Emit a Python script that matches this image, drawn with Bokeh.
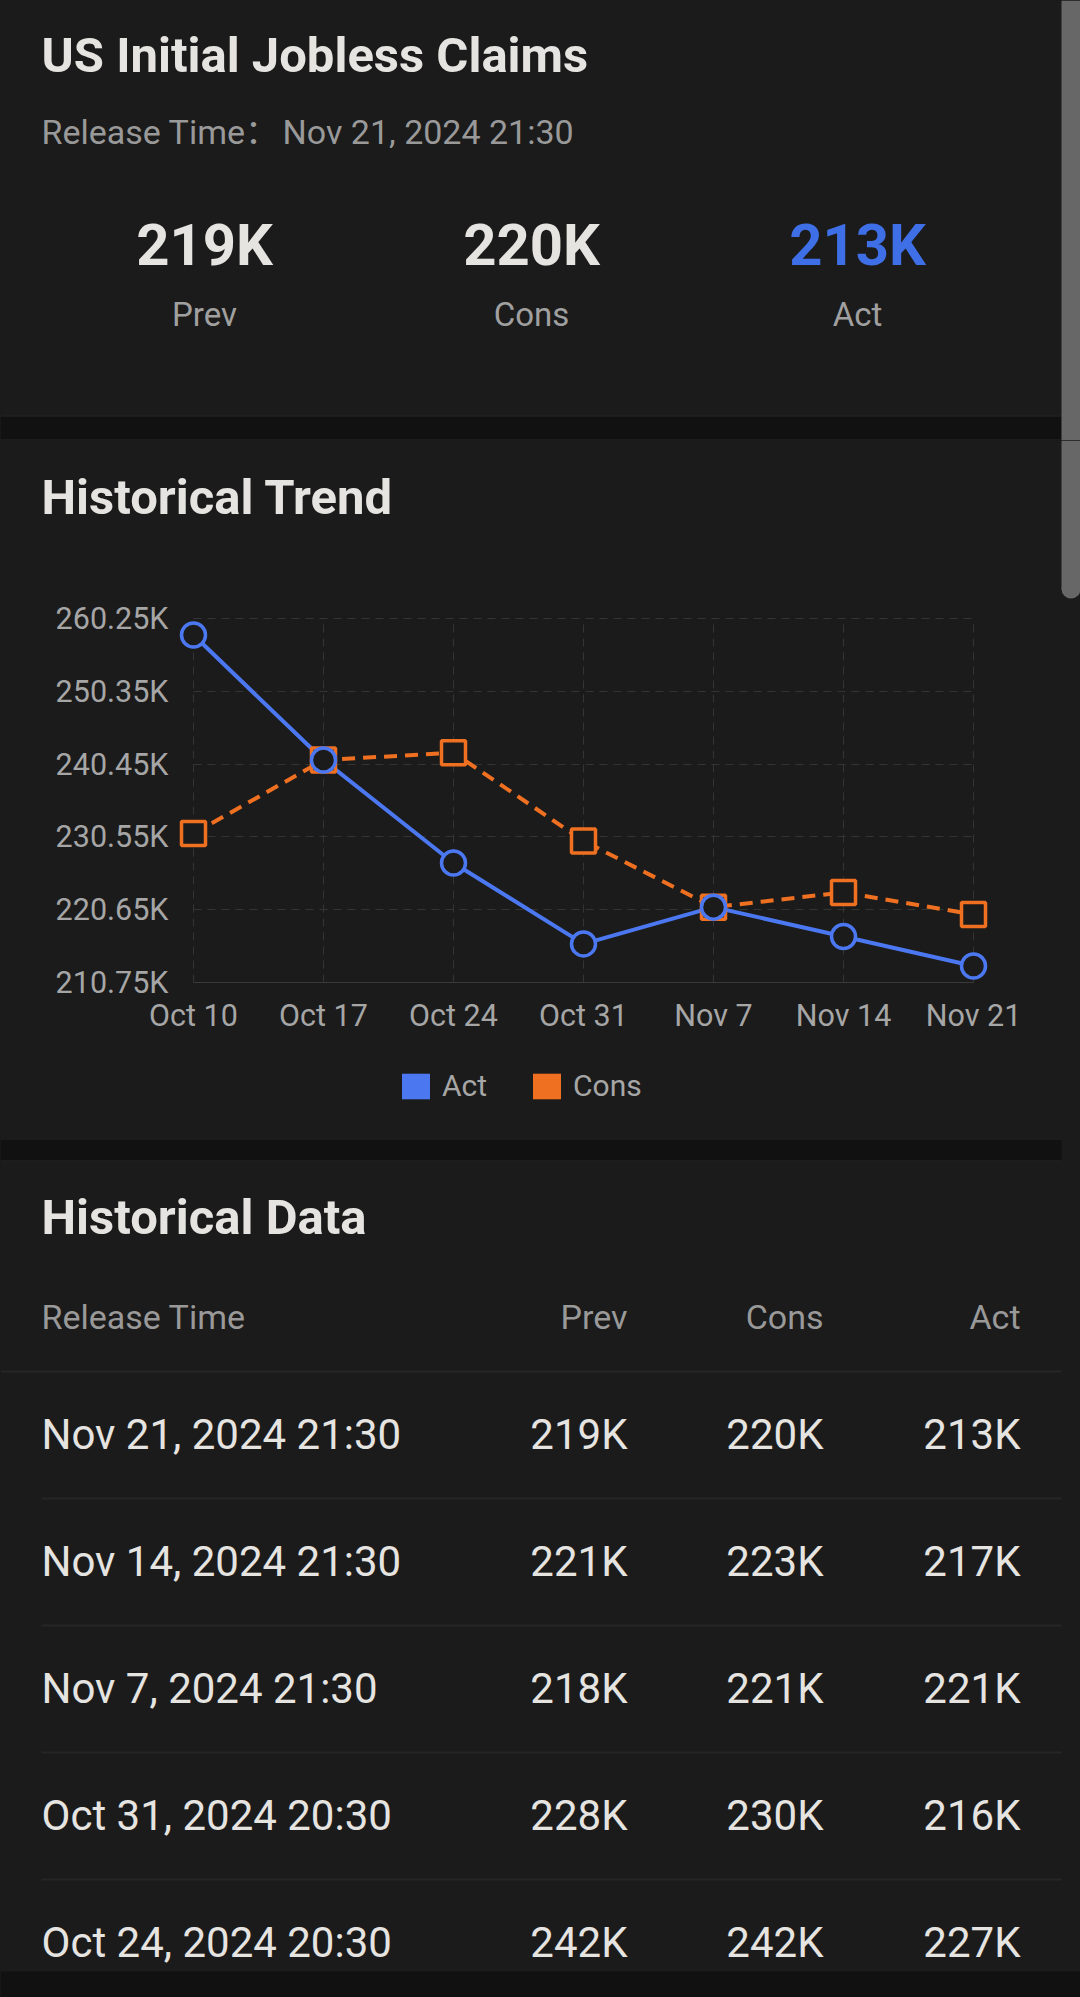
from bokeh.plotting import figure
from bokeh.models import Range1d, FixedTicker, Legend, LegendItem
from bokeh.layouts import column
from bokeh.core.properties import value
from bokeh.embed import file_html
from bokeh.resources import INLINE

# ---------------- data ----------------
indicator = "US Initial Jobless Claims"
release_label = "Release Time："
release_time = "Nov 21, 2024 21:30"
summary_labels = ["Prev", "Cons", "Act"]
summary_values = ["219K", "220K", "213K"]

trend_dates = ["Oct 10", "Oct 17", "Oct 24", "Oct 31", "Nov 7", "Nov 14", "Nov 21"]
act_values = [258000, 241000, 227000, 216000, 221000, 217000, 213000]
cons_values = [231000, 241000, 242000, 230000, 221000, 223000, 220000]
y_ticks = [210750, 220650, 230550, 240450, 250350, 260250]
y_tick_labels = ["210.75K", "220.65K", "230.55K", "240.45K", "250.35K", "260.25K"]

table_headers = ["Release Time", "Prev", "Cons", "Act"]
table_times = ["Nov 21, 2024 21:30", "Nov 14, 2024 21:30", "Nov 7, 2024 21:30",
               "Oct 31, 2024 20:30", "Oct 24, 2024 20:30"]
table_prev = ["219K", "221K", "218K", "228K", "242K"]
table_cons = ["220K", "223K", "221K", "230K", "242K"]
table_act = ["213K", "217K", "221K", "216K", "227K"]

# ---------------- styles ----------------
W = 1080
BG = "#1b1b1b"
BAND = "#111111"
BAND_EDGE = "#292929"
TXT = "#e6e4e1"
SUB = "#999999"
AXIS_TXT = "#a6a6a6"
BLUE = "#4b78f0"
ORANGE = "#ee7020"
ACT_BLUE = "#3f6fe6"
GRID = "#343434"
SCROLL = "#676767"
FONT = value("Roboto")
BASE_SHIFT = 0.39   # text is anchored so that its baseline lands on the target line


def no_align(f):
    try:
        f.frame_align = False
    except Exception:
        pass


def canvas(h):
    f = figure(width=W, height=h, x_range=Range1d(0, W), y_range=Range1d(h, 0),
               output_backend="svg", toolbar_location=None,
               x_axis_location=None, y_axis_location=None, min_border=0,
               background_fill_color=BG, border_fill_color=BG, outline_line_color=None,
               styles={"background-color": BG})
    f.grid.visible = False
    no_align(f)
    return f


def txt(f, x, y, t, size, color, bold=False, align="left", font=FONT):
    yy = [v - BASE_SHIFT * size for v in y]
    f.text(x=x, y=yy, text=t, text_font=font, text_font_size="%spx" % size,
           text_font_style="bold" if bold else "normal", text_color=color,
           text_align=align, text_baseline="alphabetic")


def band(f, y0, y1, x1=1061):
    f.quad(left=[0], right=[x1], top=[y0], bottom=[y1], fill_color=BAND, line_color=None)
    f.segment(x0=[0, 0], x1=[x1, x1], y0=[y0 + 0.5, y1 - 0.5], y1=[y0 + 0.5, y1 - 0.5],
              line_color=BAND_EDGE, line_width=1)


# ---------------- header card ----------------
hdr = canvas(440)
txt(hdr, [41], [74], [indicator], 49, TXT, bold=True)
txt(hdr, [41], [145], [release_label], 34, SUB, font=value("Roboto, 'Noto Sans CJK SC'"))
txt(hdr, [282], [145], [release_time], 34, SUB)
cols_x = [204, 531, 857]
hdr.text(x=cols_x, y=[267 - BASE_SHIFT * 58] * 3, text=summary_values, text_font=FONT,
         text_font_size="58px", text_font_style="bold", text_color=[TXT, TXT, ACT_BLUE],
         text_align="center", text_baseline="alphabetic")
txt(hdr, cols_x, [327] * 3, summary_labels, 33, "#a0a0a0", align="center")
band(hdr, 415, 440)
hdr.quad(left=[1061], right=[1080], top=[0], bottom=[440], fill_color=SCROLL, line_color=None)

# ---------------- trend title ----------------
ttl = canvas(160)
txt(ttl, [41], [76], ["Historical Trend"], 49, TXT, bold=True)
ttl.quad(left=[1061], right=[1080], top=[0], bottom=[148.5], fill_color=SCROLL, line_color=None)
ttl.scatter(x=[1070.5], y=[148.5], size=19, marker="circle", fill_color=SCROLL, line_color=None)

# ---------------- chart ----------------
n = len(trend_dates)
xs = list(range(n))
pad_x = 16 / 130.0
pad_y = 2 * (y_ticks[-1] - y_ticks[0]) / 364.0
ch = figure(width=W, height=450, x_range=Range1d(-pad_x, n - 1 + pad_x),
            y_range=Range1d(y_ticks[0], y_ticks[-1] + pad_y),
            output_backend="svg", toolbar_location=None,
            min_border_left=177, min_border_right=91, min_border_top=16, min_border_bottom=68,
            background_fill_color=BG, border_fill_color=BG, outline_line_color=None,
            styles={"background-color": BG})
no_align(ch)

ch.xaxis.ticker = FixedTicker(ticks=xs)
ch.xaxis.major_label_overrides = {i: d for i, d in enumerate(trend_dates)}
ch.xaxis.bounds = (0, n - 1)
ch.xaxis.axis_line_color = "#3a3a3a"
ch.xaxis.axis_line_width = 1
ch.xaxis.major_tick_line_color = None
ch.xaxis.minor_tick_line_color = None
ch.xaxis.major_label_standoff = 9

ch.yaxis.ticker = FixedTicker(ticks=y_ticks)
ch.yaxis.major_label_overrides = {t: l for t, l in zip(y_ticks, y_tick_labels)}
ch.yaxis.axis_line_color = None
ch.yaxis.major_tick_line_color = None
ch.yaxis.minor_tick_line_color = None
ch.yaxis.major_label_standoff = 3

for ax in (ch.xaxis, ch.yaxis):
    ax.major_label_text_font = "Roboto"
    ax.major_label_text_font_size = "30.5px"
    ax.major_label_text_color = AXIS_TXT

ch.xgrid.ticker = FixedTicker(ticks=xs)
ch.ygrid.ticker = FixedTicker(ticks=y_ticks)
for g in (ch.xgrid, ch.ygrid):
    g.grid_line_color = GRID
    g.grid_line_dash = "8 6"
    g.grid_line_width = 1
for g, cb in ((ch.ygrid, (0, n - 1)), (ch.xgrid, (y_ticks[0], y_ticks[-1]))):
    try:
        g.cross_bounds = cb
    except Exception:
        pass

ch.line(xs, cons_values, line_color=ORANGE, line_width=4, line_dash="13 8")
ch.line(xs, act_values, line_color=BLUE, line_width=4)
ch.scatter(xs, cons_values, marker="square", size=24, line_color=ORANGE, line_width=3.5, fill_color=BG)
ch.scatter(xs, act_values, marker="circle", size=24, line_color=BLUE, line_width=3.5, fill_color=BG)

# ---------------- legend strip ----------------
lg = canvas(88)
qa = lg.quad(left=[-50], right=[-50], top=[0], bottom=[0], fill_color=BLUE, line_color=None)
qc = lg.quad(left=[-50], right=[-50], top=[0], bottom=[0], fill_color=ORANGE, line_color=None)
legend = Legend(items=[LegendItem(label="Act", renderers=[qa]), LegendItem(label="Cons", renderers=[qc])],
                orientation="horizontal", location=(398, 35),
                glyph_width=35, glyph_height=32, label_standoff=9, spacing=42,
                padding=0, margin=0, border_line_color=None, background_fill_alpha=0,
                label_text_font="Roboto", label_text_font_size="30px", label_text_color=AXIS_TXT)
lg.add_layout(legend, "center")

# ---------------- table ----------------
tb = canvas(859)
band(tb, 0, 23)
txt(tb, [41], [98], ["Historical Data"], 49, TXT, bold=True)
right_x = [627, 823, 1020]
txt(tb, [41], [192], [table_headers[0]], 34, SUB)
txt(tb, right_x, [192] * 3, table_headers[1:], 34, SUB, align="right")
tb.segment(x0=[0], x1=[1061], y0=[233], y1=[233], line_color="#262626", line_width=2)
row_y = [312 + 127 * i for i in range(len(table_times))]
txt(tb, [41] * len(row_y), row_y, table_times, 42, TXT)
for cx, colvals in zip(right_x, (table_prev, table_cons, table_act)):
    txt(tb, [cx] * len(row_y), row_y, colvals, 42, TXT, align="right")
sep_y = [360 + 127 * i for i in range(len(table_times) - 1)]
tb.segment(x0=[41] * len(sep_y), x1=[1061] * len(sep_y), y0=sep_y, y1=sep_y,
           line_color="#262626", line_width=2)
tb.quad(left=[0], right=[1080], top=[833], bottom=[859], fill_color=BAND, line_color=None)

layout = column(hdr, ttl, ch, lg, tb, spacing=0, styles={"background-color": BG})
html = file_html(layout, INLINE, title="US Initial Jobless Claims")
css = "<style>html,body{margin:0;padding:0;background:%s !important;}</style>" % BG
html = html.replace("</head>", css + "</head>", 1)
open("out.html", "w").write(html)
